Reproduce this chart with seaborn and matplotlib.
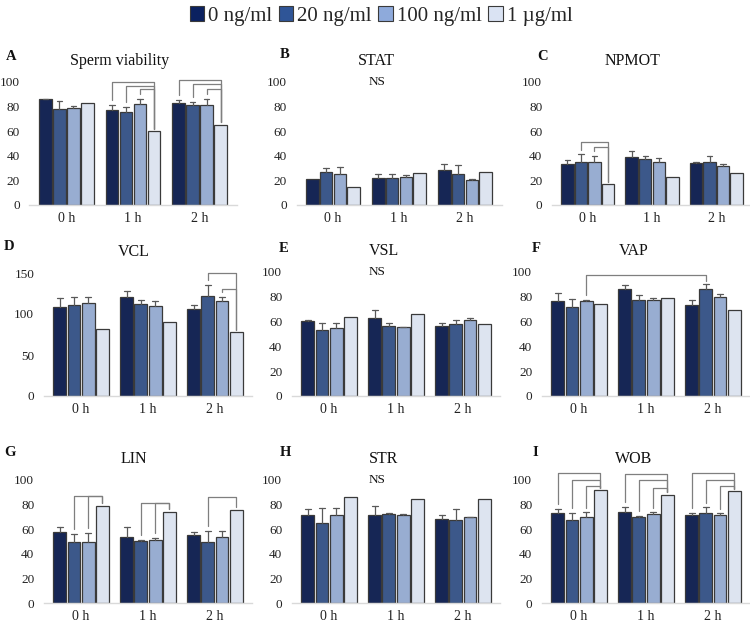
import matplotlib
matplotlib.use("Agg")
import matplotlib.pyplot as plt
from matplotlib.patches import Patch
import numpy as np
import pandas as pd
import seaborn as sns

# 데이터
times = ["0 h", "1 h", "2 h"]
concs = ["0 ng/ml", "20 ng/ml", "100 ng/ml", "1 \u00b5g/ml"]
colors = ["#0b2160", "#2f5597", "#8eaadb", "#dae3f3"]

viability_mean = [[86.0, 77.8, 79.0, 83.2], [77.3, 75.7, 82.2, 60.0], [83.2, 81.4, 81.4, 65.4]]
viability_err = [[0.3, 6.5, 1.5, 0.0], [4.0, 4.3, 4.3, 0.0], [2.2, 2.7, 5.0, 0.0]]

stat_mean = [[20.8, 27.0, 24.9, 14.9], [21.9, 21.9, 22.7, 25.7], [28.1, 24.9, 20.5, 26.5]]
stat_err = [[0.0, 3.3, 6.2, 0.0], [3.0, 3.0, 1.3, 0.0], [5.4, 7.8, 0.3, 0.0]]

npmot_mean = [[33.5, 34.6, 35.1, 17.0], [39.2, 37.8, 34.9, 22.7], [34.0, 34.6, 31.6, 25.7]]
npmot_err = [[3.3, 6.5, 4.6, 0.0], [5.1, 2.2, 3.0, 0.0], [0.8, 4.9, 1.6, 0.0]]

vcl_mean = [[108.8, 111.2, 113.3, 82.0], [120.3, 112.5, 110.0, 90.6], [105.5, 121.5, 115.4, 77.9]]
vcl_err = [[10.7, 9.9, 7.0, 0.0], [7.4, 4.5, 6.2, 0.0], [4.9, 13.6, 4.9, 0.0]]

vsl_mean = [[60.8, 53.2, 54.6, 63.5], [62.7, 56.2, 55.4, 66.5], [56.8, 57.8, 61.0, 58.1]]
vsl_err = [[0.5, 6.0, 4.6, 0.0], [6.5, 2.4, 0.3, 0.0], [1.9, 3.8, 2.2, 0.0]]

vap_mean = [[76.9, 71.5, 76.9, 73.9], [86.6, 77.4, 77.4, 78.8], [73.1, 86.3, 79.8, 69.1]]
vap_err = [[6.4, 6.7, 0.2, 0.0], [2.9, 4.3, 1.9, 0.0], [4.6, 4.3, 2.7, 0.0]]

lin_mean = [[57.8, 49.5, 50.0, 78.9], [53.5, 50.5, 51.6, 74.3], [55.1, 50.0, 54.0, 75.9]]
lin_err = [[4.0, 7.0, 7.0, 0.0], [8.0, 0.5, 1.6, 0.0], [3.0, 8.4, 4.4, 0.0]]

str_mean = [[71.7, 64.9, 71.2, 85.9], [71.7, 72.0, 71.7, 84.2], [67.9, 67.7, 69.8, 84.2]]
str_err = [[4.6, 12.0, 5.7, 0.0], [6.8, 1.1, 0.8, 0.0], [3.3, 8.4, 0.5, 0.0]]

wob_mean = [[72.8, 67.4, 69.6, 91.6], [73.9, 70.1, 72.0, 88.0], [71.2, 72.8, 71.7, 90.8]]
wob_err = [[3.3, 6.0, 4.0, 0.0], [4.4, 0.5, 1.6, 0.0], [2.2, 4.9, 1.1, 0.0]]

# 유의성 표시: (시간 from, 막대 from, 시간 to, 막대 to, 높이)
brackets_A = [(1, 0, 1, 3, 100), (1, 1, 1, 3, 97), (1, 2, 1, 3, 94),
              (2, 0, 2, 3, 102), (2, 1, 2, 3, 98), (2, 2, 2, 3, 94)]
brackets_C = [(0, 1, 0, 3, 51.4), (0, 2, 0, 3, 47.3)]
brackets_D = [(2, 1, 2, 3, 149.6), (2, 2, 2, 3, 130.6)]
brackets_F = [(0, 2, 2, 1, 97.6)]
brackets_G = [(0, 1, 0, 3, 86.8), (0, 2, 0, 3, 86.8), (1, 1, 1, 3, 81.6),
              (1, 2, 1, 3, 81.6), (2, 1, 2, 3, 86.2)]
brackets_I = [(0, 0, 0, 3, 105.4), (0, 1, 0, 3, 100), (0, 2, 0, 3, 95.4),
              (1, 0, 1, 3, 104.6), (1, 1, 1, 3, 99.7), (1, 2, 1, 3, 93.5),
              (2, 0, 2, 3, 105.4), (2, 1, 2, 3, 100), (2, 2, 2, 3, 95.4)]

panels = [
    ("A", "Sperm viability", viability_mean, viability_err, brackets_A, False, 100),
    ("B", "STAT", stat_mean, stat_err, [], True, 100),
    ("C", "NPMOT", npmot_mean, npmot_err, brackets_C, False, 100),
    ("D", "VCL", vcl_mean, vcl_err, brackets_D, False, 150),
    ("E", "VSL", vsl_mean, vsl_err, [], True, 100),
    ("F", "VAP", vap_mean, vap_err, brackets_F, False, 100),
    ("G", "LIN", lin_mean, lin_err, brackets_G, False, 100),
    ("H", "STR", str_mean, str_err, [], True, 100),
    ("I", "WOB", wob_mean, wob_err, brackets_I, False, 100),
]

# 레이아웃 (픽셀): x0, top, width, height
W, H = 750, 624
boxes = [(29.5, 82, 207, 123), (296.5, 82, 205, 123), (552, 82, 200, 123),
         (44, 273, 208, 123), (292, 272, 208, 124), (542, 272, 208, 124),
         (44, 480, 208, 123), (292, 480, 208, 123), (542, 480, 208, 123)]
letter_pos = [(11.5, 56), (284.5, 55), (543, 57), (9, 247), (284, 249), (536, 249),
              (10, 453), (285, 453), (535, 453)]
title_x = [0.437, 0.39, 0.405, 0.43, 0.44, 0.44, 0.43, 0.44, 0.44]

sns.set_theme(style="white")
plt.rcParams["font.family"] = ["Liberation Serif", "DejaVu Serif"]

fig = plt.figure(figsize=(7.5, 6.24), dpi=100)
line_c = "#7f7f7f"

for k, (letter, title, mean, err, brackets, ns, ymax) in enumerate(panels):
    x0, top, w, h = boxes[k]
    ax = fig.add_axes([x0 / W, 1 - (top + h) / H, w / W, h / H])

    df = pd.DataFrame({"time": np.repeat(times, 4),
                       "conc": np.tile(concs, 3),
                       "value": np.ravel(mean)})
    sns.barplot(data=df, x="time", y="value", hue="conc", hue_order=concs,
                order=times, palette=colors, width=0.84, gap=0.08,
                edgecolor="#3a3a3a", linewidth=0.9, errorbar=None,
                legend=False, ax=ax)

    # 막대 위치
    pos = [[0] * 4 for _ in range(3)]
    bw = 0
    for hi, cont in enumerate(ax.containers):
        for gi, bar in enumerate(cont):
            pos[gi][hi] = bar.get_x() + bar.get_width() / 2
            bw = bar.get_width()

    # 위쪽 에러바만
    for gi in range(3):
        for hi in range(4):
            e = err[gi][hi]
            if e <= 0:
                continue
            x = pos[gi][hi]
            y = mean[gi][hi]
            ax.plot([x, x], [y, y + e], color="#595959", lw=0.9, zorder=1)
            ax.plot([x - bw * 0.22, x + bw * 0.22], [y + e, y + e],
                    color="#595959", lw=0.9, zorder=1)

    for g1, b1, g2, b2, ytop in brackets:
        xa, xb = pos[g1][b1], pos[g2][b2]
        ya = mean[g1][b1] + err[g1][b1] + 0.04 * ymax
        yb = mean[g2][b2] + err[g2][b2] + 0.02 * ymax
        ax.plot([xa, xa, xb, xb], [ya, ytop, ytop, yb], color=line_c,
                lw=0.9, clip_on=False, zorder=3)

    ax.set_ylim(0, ymax)
    ax.set_yticks(np.arange(0, ymax + 1, 50 if ymax == 150 else 20))
    ax.set_xlabel("")
    ax.set_ylabel("")
    for s in ["left", "top", "right"]:
        ax.spines[s].set_visible(False)
    ax.spines["bottom"].set_color("#d9d9d9")
    ax.spines["bottom"].set_linewidth(1)
    ax.tick_params(axis="y", length=0, pad=7, labelsize=9.5, labelcolor="#222222")
    ax.tick_params(axis="x", length=0, pad=5, labelsize=10, labelcolor="#222222")

    ax.annotate(title, xy=(title_x[k], 1), xycoords="axes fraction",
                xytext=(0, 21 * 0.72), textcoords="offset points",
                ha="center", va="center", fontsize=11.5, color="#111111",
                annotation_clip=False)
    if ns:
        ax.text((377 - x0) / w, 1.0, "NS", transform=ax.transAxes,
                ha="center", va="center", fontsize=9.5, color="#111111")

    lx, ly = letter_pos[k]
    fig.text(lx / W, 1 - ly / H, letter, ha="center", va="center",
             fontsize=10.5, fontweight="bold", color="#111111")

handles = [Patch(facecolor=c, edgecolor="#3a3a3a", linewidth=0.8) for c in colors]
fig.legend(handles, concs, loc="center", bbox_to_anchor=(381 / W, 1 - 16 / H),
           ncol=4, frameon=False, fontsize=15, handlelength=0.7,
           handleheight=0.7, handletextpad=0.2, columnspacing=0.3)

fig.savefig("out.png", dpi=100)
